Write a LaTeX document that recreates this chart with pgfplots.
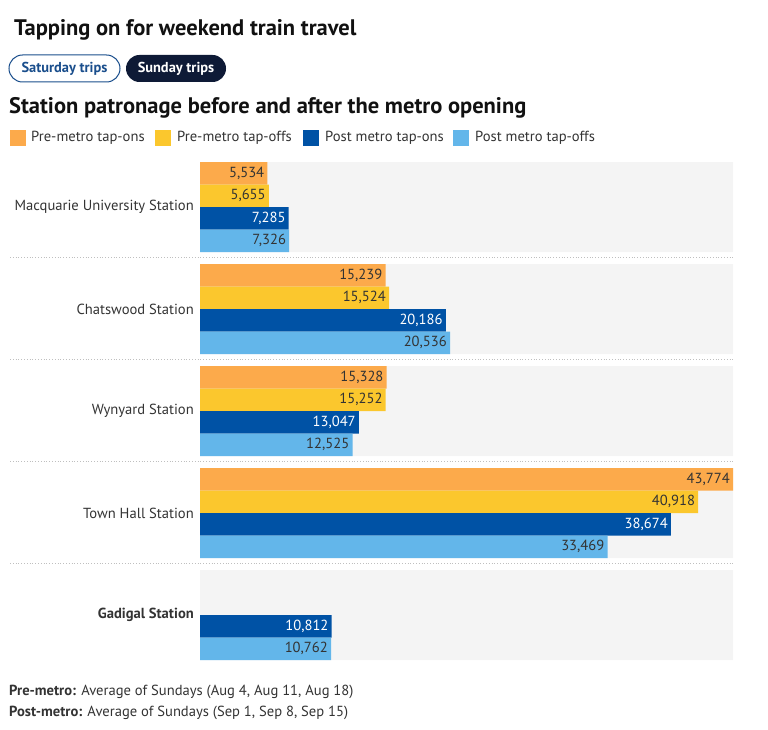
\documentclass[border=0pt]{standalone}
\usepackage{pgfplots}
\pgfplotsset{compat=1.18}
\usepackage{fontspec}
\setmainfont{PT Sans}
\definecolor{cOrange}{HTML}{FCAA4B}
\definecolor{cYellow}{HTML}{FBC72D}
\definecolor{cDark}{HTML}{0052A5}
\definecolor{cLight}{HTML}{63B6EA}
\definecolor{cBg}{HTML}{F4F4F4}
\definecolor{cNavy}{HTML}{0E1A36}
\definecolor{cPill}{HTML}{1A4E8C}
\definecolor{cText}{HTML}{333333}
\definecolor{cTitle}{HTML}{111111}
\begin{document}
\begin{tikzpicture}[x=1pt,y=1pt]
\useasboundingbox (0,0) rectangle (768,-730);
% titles
\node[anchor=west,inner sep=0pt,text=cTitle,font=\fontsize{22.5}{25}\selectfont\bfseries] at (14,-30) {Tapping on for weekend train travel};
\draw[cPill,line width=1pt,rounded corners=13.5pt] (9,-55) rectangle (120,-82);
\node[text=cPill,font=\fontsize{14.4}{16}\selectfont\bfseries] at (64.5,-68.5) {Saturday trips};
\fill[cNavy,rounded corners=13.5pt] (126,-55) rectangle (226,-82);
\node[text=white,font=\fontsize{14.4}{16}\selectfont\bfseries] at (176,-68.5) {Sunday trips};
\node[anchor=west,inner sep=0pt,text=cTitle,font=\fontsize{22.5}{25}\selectfont\bfseries] at (9,-108) {Station patronage before and after the metro opening};
% legend
\fill[cOrange] (10,-130) rectangle (26,-146);
\node[anchor=west,inner sep=0pt,text=cText,font=\fontsize{14.6}{16}\selectfont] at (31,-138) {Pre-metro tap-ons};
\fill[cYellow] (155,-130) rectangle (171,-146);
\node[anchor=west,inner sep=0pt,text=cText,font=\fontsize{14.6}{16}\selectfont] at (177,-138) {Pre-metro tap-offs};
\fill[cDark] (303,-130) rectangle (319,-146);
\node[anchor=west,inner sep=0pt,text=cText,font=\fontsize{14.6}{16}\selectfont] at (325,-138) {Post metro tap-ons};
\fill[cLight] (453,-130) rectangle (469,-146);
\node[anchor=west,inner sep=0pt,text=cText,font=\fontsize{14.6}{16}\selectfont] at (475,-138) {Post metro tap-offs};
\begin{axis}[
  at={(200pt,-662pt)}, anchor=south west,
  width=533pt, height=502pt, scale only axis,
  xmin=0, xmax=43774, ymin=160, ymax=662, y dir=reverse,
  axis line style={draw=none}, xtick=\empty,
  ytick={207,309,411,513,615},
  yticklabels={Macquarie University Station, Chatswood Station, Wynyard Station, Town Hall Station, \textbf{Gadigal Station}},
  major tick length=0pt,
  yticklabel style={font=\fontsize{14.6}{16}\selectfont, text=cText, inner sep=0pt, xshift=-6pt},
  xbar, bar shift=0pt, bar width=22.5,
  clip=false,
  /pgf/number format/assume math mode=true,
  /pgf/number format/1000 sep={,},
]
\addplot[fill=cBg, draw=none, bar width=90] coordinates {(43774,207) (43774,309) (43774,411) (43774,513) (43774,615)};
\pgfplotsset{every axis plot/.append style={
  nodes near coords, point meta=x,
  every node near coord/.append style={anchor=east, xshift=-3pt, inner sep=0pt, font=\fontsize{14.6}{16}\selectfont}}}
\addplot[fill=cOrange, draw=none, every node near coord/.append style={text=cText}] coordinates {(5534,173.25) (15239,275.25) (15328,377.25) (43774,479.25)};
\addplot[fill=cYellow, draw=none, every node near coord/.append style={text=cText}] coordinates {(5655,195.75) (15524,297.75) (15252,399.75) (40918,501.75)};
\addplot[fill=cDark, draw=none, every node near coord/.append style={text=white}] coordinates {(7285,218.25) (20186,320.25) (13047,422.25) (38674,524.25) (10812,626.25)};
\addplot[fill=cLight, draw=none, every node near coord/.append style={text=cText}] coordinates {(7326,240.75) (20536,342.75) (12525,444.75) (33469,546.75) (10762,648.75)};
\end{axis}
\foreach \yy in {257.5,359.5,461.5,563.5} {
  \draw[gray!50, dotted, line width=0.8pt] (10,-\yy) -- (733,-\yy);
}
% footer
\node[anchor=west,inner sep=0pt,text=cText,font=\fontsize{14.6}{16}\selectfont] at (9,-692) {\textbf{Pre-metro:} Average of Sundays (Aug 4, Aug 11, Aug 18)};
\node[anchor=west,inner sep=0pt,text=cText,font=\fontsize{14.6}{16}\selectfont] at (9,-713) {\textbf{Post-metro:} Average of Sundays (Sep 1, Sep 8, Sep 15)};
\end{tikzpicture}
\end{document}
